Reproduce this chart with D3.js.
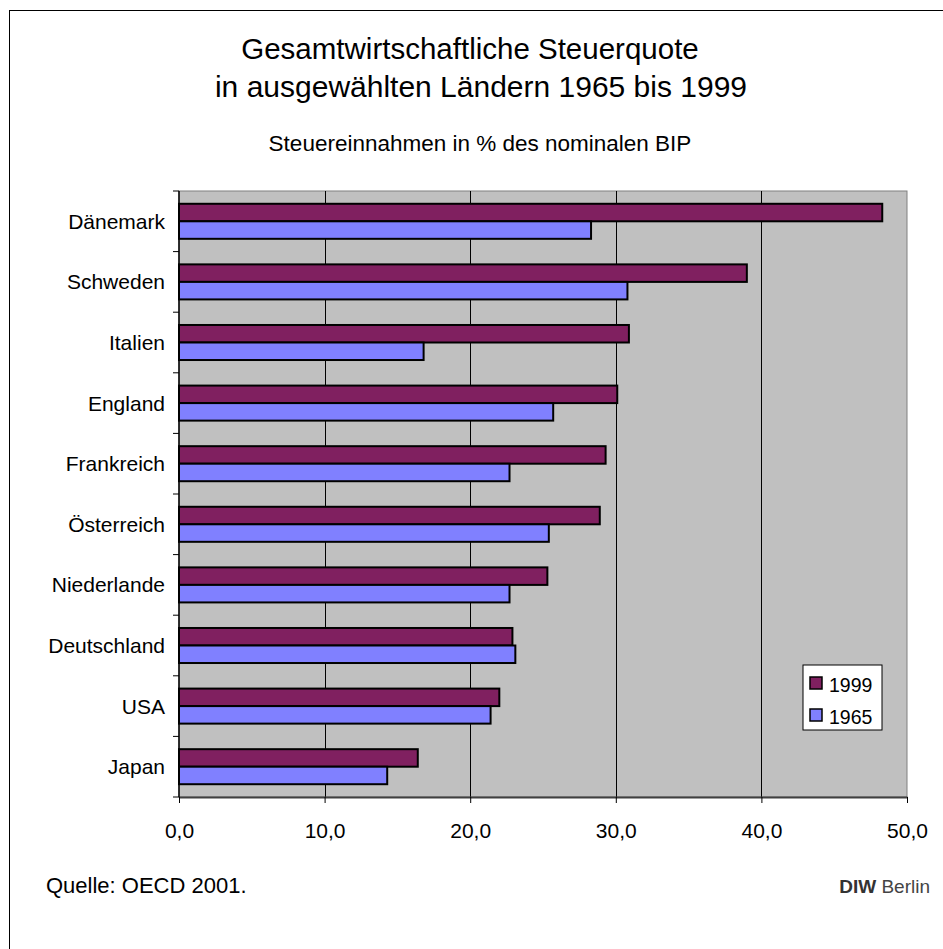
<!DOCTYPE html>
<html>
<head>
<meta charset="utf-8">
<script src="https://cdn.jsdelivr.net/npm/d3@7"></script>
<style>
  body { margin: 0; background: #fff; }
  svg text { font-family: "Liberation Sans", Arial, sans-serif; fill: #000; }
</style>
</head>
<body>
<div id="chart"></div>
<script>
// Daten (Steuereinnahmen in % des nominalen BIP)
var countries = ["Dänemark","Schweden","Italien","England","Frankreich",
                 "Österreich","Niederlande","Deutschland","USA","Japan"];
var years = ["1999","1965"];
var values1999 = [48.3, 39.0, 30.9, 30.1, 29.3, 28.9, 25.3, 22.9, 22.0, 16.4];
var values1965 = [28.3, 30.8, 16.8, 25.7, 22.7, 25.4, 22.7, 23.1, 21.4, 14.3];
var xTicks = [0, 10, 20, 30, 40, 50];

var W = 943, H = 949;
var margin = {top: 191, right: 36, bottom: 152, left: 179};

var svg = d3.select("#chart").append("svg")
    .attr("width", W)
    .attr("height", H);

// outer frame
svg.append("rect")
    .attr("x", 9.5).attr("y", 10.5)
    .attr("width", W).attr("height", H)
    .attr("fill", "none")
    .attr("stroke", "#000")
    .attr("stroke-width", 1);

// titles
svg.append("text").attr("x", 470).attr("y", 59)
    .attr("text-anchor", "middle").style("font-size", "29.5px")
    .text("Gesamtwirtschaftliche Steuerquote");
svg.append("text").attr("x", 481).attr("y", 97)
    .attr("text-anchor", "middle").style("font-size", "30px")
    .text("in ausgewählten Ländern 1965 bis 1999");
svg.append("text").attr("x", 480).attr("y", 151)
    .attr("text-anchor", "middle").style("font-size", "22.5px")
    .text("Steuereinnahmen in % des nominalen BIP");

var x = d3.scaleLinear()
    .domain([0, 50])
    .range([margin.left, W - margin.right]);

var y0 = d3.scaleBand()
    .domain(countries)
    .range([margin.top, H - margin.bottom])
    .paddingInner(0);

var y1 = d3.scaleBand()
    .domain(years)
    .range([0, y0.bandwidth()])
    .paddingInner(0)
    .paddingOuter(0.73);

var color = d3.scaleOrdinal()
    .domain(years)
    .range(["#802060", "#8080FF"]);

// plot background
svg.append("rect")
    .attr("x", x(0)).attr("y", margin.top)
    .attr("width", x(50) - x(0))
    .attr("height", H - margin.bottom - margin.top)
    .attr("fill", "#C0C0C0")
    .attr("stroke", "#808080")
    .attr("stroke-width", 1);

// gridlines
svg.append("g").selectAll("line")
    .data(xTicks.filter(function(d){ return d > 0 && d < 50; }))
    .enter().append("line")
    .attr("x1", function(d){ return Math.round(x(d)) + 0.5; })
    .attr("x2", function(d){ return Math.round(x(d)) + 0.5; })
    .attr("y1", margin.top)
    .attr("y2", H - margin.bottom)
    .attr("stroke", "#000")
    .attr("stroke-width", 1);

// bars
var rows = countries.map(function(c, i){
    return {name: c, mets: [
        {year: "1999", value: values1999[i]},
        {year: "1965", value: values1965[i]}
    ]};
});

var groups = svg.append("g").selectAll(".row")
    .data(rows)
    .enter().append("g")
    .attr("class", "row")
    .attr("transform", function(d){ return "translate(0," + y0(d.name) + ")"; });

groups.selectAll("rect")
    .data(function(d){ return d.mets; })
    .enter().append("rect")
    .attr("x", x(0))
    .attr("y", function(d){ return y1(d.year); })
    .attr("width", function(d){ return x(d.value) - x(0); })
    .attr("height", y1.bandwidth())
    .attr("fill", function(d){ return color(d.year); })
    .attr("stroke", "#000")
    .attr("stroke-width", 2);

// x axis
var xAxis = d3.axisBottom(x)
    .tickValues(xTicks)
    .tickSize(6)
    .tickSizeOuter(0)
    .tickFormat(function(d){ return d3.format(".1f")(d).replace(".", ","); });

var gx = svg.append("g")
    .attr("transform", "translate(0," + (H - margin.bottom) + ")")
    .call(xAxis);
gx.select(".domain").attr("stroke", "#404040").attr("stroke-width", 2);
gx.selectAll(".tick line").attr("stroke", "#000");
gx.selectAll(".tick text")
    .attr("y", 41)
    .attr("dy", 0)
    .style("font-size", "21px")
    .style("font-family", "'Liberation Sans', Arial, sans-serif");

// y axis: ticks on band boundaries
var gy = svg.append("g");
gy.append("line")
    .attr("x1", x(0)).attr("x2", x(0))
    .attr("y1", margin.top).attr("y2", H - margin.bottom)
    .attr("stroke", "#000").attr("stroke-width", 1.5);
var bounds = countries.map(function(c){ return y0(c); }).concat([H - margin.bottom]);
gy.selectAll(".ytick")
    .data(bounds)
    .enter().append("line")
    .attr("class", "ytick")
    .attr("x1", x(0) - 6).attr("x2", x(0))
    .attr("y1", function(d){ return d; })
    .attr("y2", function(d){ return d; })
    .attr("stroke", "#000");
gy.selectAll(".ylabel")
    .data(countries)
    .enter().append("text")
    .attr("class", "ylabel")
    .attr("x", 165)
    .attr("y", function(d){ return y0(d) + y0.bandwidth() / 2 + 7.5; })
    .attr("text-anchor", "end")
    .style("font-size", "21px")
    .text(function(d){ return d; });

// legend
var leg = svg.append("g").attr("transform", "translate(803,665)");
leg.append("rect")
    .attr("width", 79).attr("height", 65)
    .attr("fill", "#fff").attr("stroke", "#000").attr("stroke-width", 1);
leg.selectAll(".item")
    .data(years)
    .enter().append("g")
    .attr("class", "item")
    .attr("transform", function(d, i){ return "translate(7," + (12 + i * 32) + ")"; })
    .each(function(d){
        var g = d3.select(this);
        g.append("rect").attr("width", 12).attr("height", 12)
            .attr("fill", color(d)).attr("stroke", "#000").attr("stroke-width", 1.5);
        g.append("text").attr("x", 19).attr("y", 14.5)
            .style("font-size", "19.5px").text(d);
    });

// footer
svg.append("text").attr("x", 46).attr("y", 893)
    .style("font-size", "22px").text("Quelle: OECD 2001.");
var diw = svg.append("text").attr("x", 930).attr("y", 893)
    .attr("text-anchor", "end").style("font-size", "19px");
diw.append("tspan").style("font-weight", "bold").attr("fill", "#333").text("DIW");
diw.append("tspan").attr("fill", "#444").text(" Berlin");
</script>
</body>
</html>
